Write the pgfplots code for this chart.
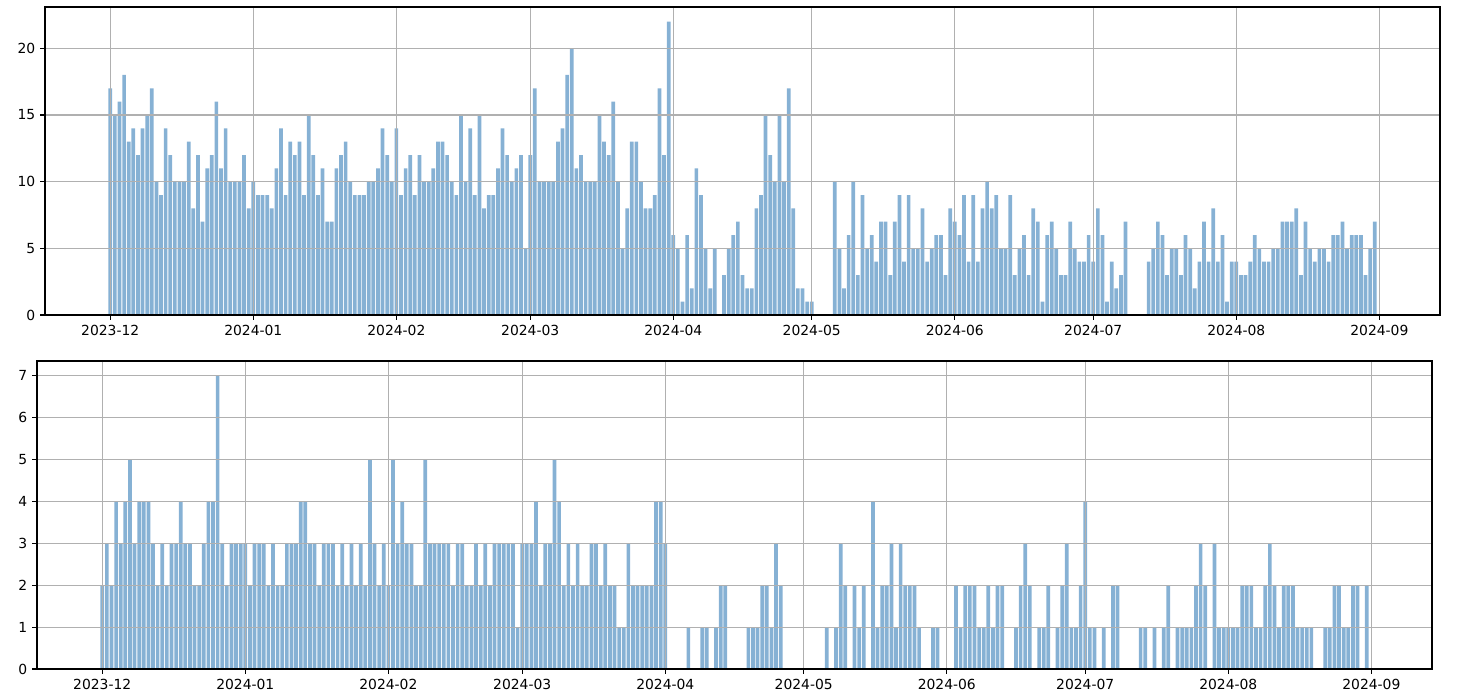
\documentclass[border=0pt]{standalone}
\usepackage{pgfplots}
\pgfplotsset{compat=1.18}
\usepackage{fontspec}
\setmainfont{DejaVu Sans}
\definecolor{barc}{RGB}{134,177,212}
\definecolor{gridc}{RGB}{176,176,176}
\begin{document}
\begin{tikzpicture}
\useasboundingbox (0,0) rectangle (1049.76pt,-503.28pt);
\pgfplotsset{
 myax/.style={scale only axis, width=1004.4pt, height=221.76pt, anchor=south west,
  xmin=-14.14, xmax=288.14, ymin=0, axis on top, ybar, bar width=0.8, bar shift=0pt,
  xtick={0,31,62,91,122,152,183,213,244,275},
  xticklabels={2023-12,2024-01,2024-02,2024-03,2024-04,2024-05,2024-06,2024-07,2024-08,2024-09},
  grid=major, grid style={gridc, line width=0.8pt},
  axis line style={line width=0.8pt}, tick style={black, line width=0.8pt},
  major tick length=3.5pt, tick align=outside, xtick pos=lower, ytick pos=left,
  tick label style={font=\fontsize{10}{12}\selectfont},
  /pgf/number format/assume math mode=true}
}
\begin{axis}[myax, at={(32.4pt,-226.8pt)}, ymax=23.1, ytick={0,5,10,15,20}]
\addplot[fill=barc, draw=none] coordinates {
(0,17)(1,15)(2,16)(3,18)(4,13)(5,14)(6,12)(7,14)(8,15)(9,17)(10,10)(11,9)(12,14)(13,12)(14,10)(15,10)(16,10)(17,13)(18,8)(19,12)(20,7)(21,11)(22,12)(23,16)(24,11)(25,14)(26,10)(27,10)(28,10)(29,12)(30,8)(31,10)
(32,9)(33,9)(34,9)(35,8)(36,11)(37,14)(38,9)(39,13)(40,12)(41,13)(42,9)(43,15)(44,12)(45,9)(46,11)
(47,7)(48,7)(49,11)(50,12)(51,13)(52,10)(53,9)(54,9)(55,9)(56,10)(57,10)(58,11)(59,14)(60,12)(61,10)(62,14)(63,9)(64,11)(65,12)(66,9)(67,12)(68,10)(69,10)(70,11)(71,13)(72,13)(73,12)(74,10)(75,9)(76,15)(77,10)(78,14)(79,9)(80,15)(81,8)(82,9)(83,9)(84,11)(85,14)(86,12)(87,10)(88,11)(89,12)(90,5)(91,12)(92,17)
(93,10)(94,10)(95,10)(96,10)(97,13)(98,14)(99,18)(100,20)(101,11)(102,12)(103,10)(104,10)(105,10)(106,15)(107,13)(108,12)(109,16)(110,10)(111,5)(112,8)(113,13)(114,13)(115,10)(116,8)(117,8)(118,9)(119,17)(120,12)(121,22)(122,6)(123,5)(124,1)(125,6)(126,2)(127,11)(128,9)(129,5)(130,2)(131,5)(133,3)(134,5)(135,6)(136,7)(137,3)(138,2)(139,2)(140,8)(141,9)
(142,15)(143,12)(144,10)(145,15)(146,10)(147,17)(148,8)(149,2)(150,2)(151,1)(152,1)
(157,10)(158,5)(159,2)(160,6)(161,10)(162,3)(163,9)(164,5)(165,6)(166,4)(167,7)(168,7)(169,3)(170,7)(171,9)(172,4)(173,9)(174,5)(175,5)(176,8)(177,4)(178,5)(179,6)(180,6)(181,3)(182,8)(183,7)(184,6)(185,9)(186,4)(187,9)(188,4)(189,8)
(190,10)(191,8)(192,9)(193,5)(194,5)(195,9)(196,3)(197,5)(198,6)(199,3)(200,8)(201,7)(202,1)(203,6)(204,7)(205,5)(206,3)(207,3)(208,7)(209,5)(210,4)(211,4)(212,6)(213,4)(214,8)(215,6)(216,1)(217,4)(218,2)(219,3)(220,7)
(225,4)(226,5)(227,7)(228,6)(229,3)(230,5)(231,5)(232,3)(233,6)(234,5)(235,2)(236,4)(237,7)(238,4)(239,8)(240,4)(241,6)(242,1)(243,4)(244,4)(245,3)(246,3)(247,4)(248,6)(249,5)(250,4)(251,4)(252,5)(253,5)(254,7)(255,7)(256,7)(257,8)(258,3)(259,7)(260,5)(261,4)(262,5)(263,5)(264,4)(265,6)(266,6)(267,7)(268,5)(269,6)(270,6)(271,6)(272,3)(273,5)(274,7)
};
\end{axis}
\begin{axis}[myax, at={(26.64pt,-481.68pt)}, ymax=7.35, ytick={0,1,2,3,4,5,6,7}]
\addplot[fill=barc, draw=none] coordinates {
(0,2)(1,3)(2,2)(3,4)(4,3)(5,4)(6,5)(7,3)(8,4)(9,4)(10,4)(11,3)(12,2)(13,3)(14,2)(15,3)(16,3)(17,4)(18,3)(19,3)(20,2)(21,2)(22,3)(23,4)(24,4)(25,7)(26,3)(27,2)(28,3)(29,3)(30,3)(31,3)
(32,2)(33,3)(34,3)(35,3)(36,2)(37,3)(38,2)(39,2)(40,3)(41,3)(42,3)(43,4)(44,4)(45,3)(46,3)(47,2)(48,3)(49,3)(50,3)(51,2)(52,3)(53,2)(54,3)(55,2)(56,3)(57,2)(58,5)(59,3)(60,2)(61,3)
(62,2)(63,5)(64,3)(65,4)(66,3)(67,3)(68,2)(69,2)(70,5)(71,3)(72,3)(73,3)(74,3)(75,3)(76,2)(77,3)(78,3)(79,2)(80,2)(81,3)(82,2)(83,3)(84,2)(85,3)(86,3)(87,3)(88,3)(89,3)(90,1)
(91,3)(92,3)(93,3)(94,4)(95,2)(96,3)(97,3)(98,5)(99,4)(100,2)(101,3)(102,2)(103,3)(104,2)(105,2)(106,3)(107,3)(108,2)(109,3)(110,2)(111,2)(112,1)(113,1)(114,3)(115,2)(116,2)(117,2)(118,2)(119,2)(120,4)(121,4)
(122,3)(127,1)(130,1)(131,1)(133,1)(134,2)(135,2)(140,1)(141,1)(142,1)(143,2)(144,2)(145,1)(146,3)(147,2)
(157,1)(159,1)(160,3)(161,2)(163,2)(164,1)(165,2)(167,4)(168,1)(169,2)(170,2)(171,3)(172,1)(173,3)(174,2)(175,2)(176,2)(177,1)(180,1)(181,1)
(185,2)(186,1)(187,2)(188,2)(189,2)(190,1)(191,1)(192,2)(193,1)(194,2)(195,2)(198,1)(199,2)(200,3)(201,2)(203,1)(204,1)(205,2)(207,1)(208,2)(209,3)(210,1)(211,1)(212,2)
(213,4)(214,1)(215,1)(217,1)(219,2)(220,2)(225,1)(226,1)(228,1)(230,1)(231,2)(233,1)(234,1)(235,1)(236,1)(237,2)(238,3)(239,2)(241,3)(242,1)(243,1)
(244,1)(245,1)(246,1)(247,2)(248,2)(249,2)(250,1)(251,1)(252,2)(253,3)(254,2)(255,1)(256,2)(257,2)(258,2)(259,1)(260,1)(261,1)(262,1)(265,1)(266,1)(267,2)(268,2)(269,1)(270,1)(271,2)(272,2)(274,2)
};
\end{axis}
\end{tikzpicture}
\end{document}
